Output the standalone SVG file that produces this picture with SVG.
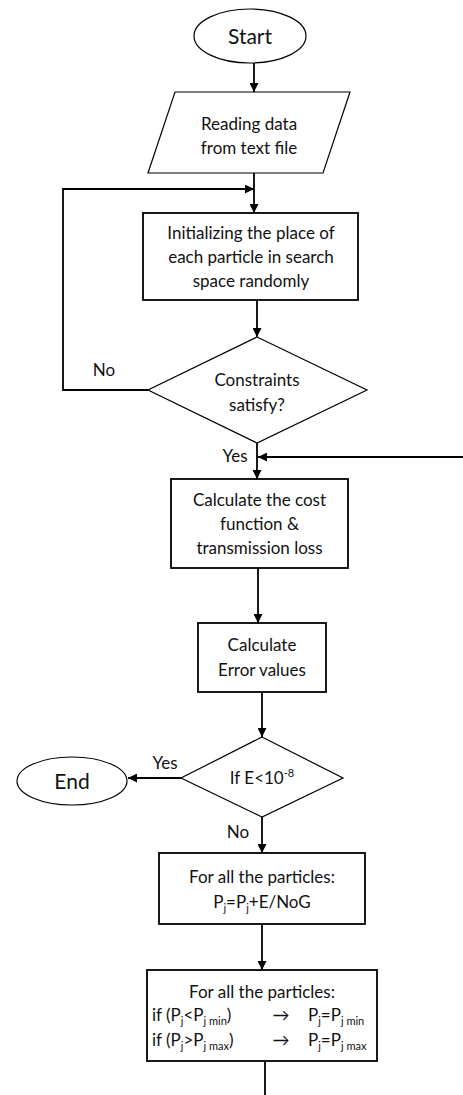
<svg xmlns="http://www.w3.org/2000/svg" width="463" height="1095" viewBox="0 0 463 1095">
<style>
.sh{fill:#fff;stroke:#000;stroke-width:1.2}
.bx{fill:#fff;stroke:#000;stroke-width:1.8}
.t{font-family:Lato,"Liberation Sans",sans-serif;font-size:17px;fill:#111;text-anchor:middle}
.tb{font-family:Lato,"Liberation Sans",sans-serif;font-size:21px;fill:#111;text-anchor:middle}
.tl{font-family:Lato,"Liberation Sans",sans-serif;font-size:17px;fill:#111}
.c{fill:none;stroke:#000;stroke-width:1.8}
.s{font-size:11px}
</style>
<defs>
<marker id="ah" viewBox="0 0 10 10" refX="10" refY="5" markerWidth="9" markerHeight="9" markerUnits="userSpaceOnUse" orient="auto">
<path d="M0,0 L10,5 L0,10 z" fill="#000"/>
</marker>
</defs>
<g id="connectors">
<path class="c" d="M254,63 V92" marker-end="url(#ah)"/>
<path class="c" d="M254,173 V213" marker-end="url(#ah)"/>
<path class="c" d="M148,390 H63 V189 H254" marker-end="url(#ah)"/>
<path class="c" d="M257,300 V337" marker-end="url(#ah)"/>
<path class="c" d="M257,443 V479" marker-end="url(#ah)"/>
<path class="c" d="M463,457 H258" marker-end="url(#ah)"/>
<path class="c" d="M258,568 V623" marker-end="url(#ah)"/>
<path class="c" d="M262,692 V737" marker-end="url(#ah)"/>
<path class="c" d="M181,778 H128" marker-end="url(#ah)"/>
<path class="c" d="M262,817 V853" marker-end="url(#ah)"/>
<path class="c" d="M262,924 V970" marker-end="url(#ah)"/>
<path class="c" d="M265,1061 V1095"/>
<text class="t" x="104" y="376">No</text>
<text class="t" x="235" y="462">Yes</text>
<text class="t" x="165" y="769">Yes</text>
<text class="t" x="238" y="838">No</text>
</g>
<g id="start">
<ellipse class="sh" cx="250" cy="36" rx="56" ry="27"/>
<text class="tb" x="250" y="44">Start</text>
</g>
<g id="read">
<polygon class="sh" points="175,92 350,92 323,173 148,173"/>
<text class="t" x="249" y="130">Reading data</text>
<text class="t" x="249" y="154">from text file</text>
</g>
<g id="init">
<rect class="bx" x="143" y="213" width="215" height="87"/>
<text class="t" x="251" y="239">Initializing the place of</text>
<text class="t" x="251" y="263">each particle in search</text>
<text class="t" x="251" y="287">space randomly</text>
</g>
<g id="constraints">
<polygon class="sh" points="257,337 367,390 257,443 148,390"/>
<text class="t" x="257" y="386">Constraints</text>
<text class="t" x="257" y="411">satisfy?</text>
</g>
<g id="cost">
<rect class="bx" x="171" y="479" width="177" height="89"/>
<text class="t" x="259.5" y="506">Calculate the cost</text>
<text class="t" x="259.5" y="530">function &amp;</text>
<text class="t" x="259.5" y="554">transmission loss</text>
</g>
<g id="error">
<rect class="bx" x="198" y="623" width="128" height="69"/>
<text class="t" x="262" y="651">Calculate</text>
<text class="t" x="262" y="676">Error values</text>
</g>
<g id="check">
<polygon class="sh" points="262,737 343,778 262,817 181,778"/>
<text class="t" x="262" y="784">If E&lt;10<tspan class="s" dy="-7">-8</tspan></text>
</g>
<g id="end">
<ellipse class="sh" cx="72" cy="781" rx="55" ry="24"/>
<text class="tb" x="72" y="789">End</text>
</g>
<g id="update">
<rect class="bx" x="159" y="853" width="206" height="71"/>
<text class="t" x="262" y="883">For all the particles:</text>
<text class="t" x="262" y="908">P<tspan class="s" dy="4">j</tspan><tspan dy="-4">=P</tspan><tspan class="s" dy="4">j</tspan><tspan dy="-4">+E/NoG</tspan></text>
</g>
<g id="limits">
<rect class="bx" x="147" y="970" width="230" height="91"/>
<text class="t" x="262" y="998">For all the particles:</text>
<text class="tl" x="152" y="1021">if (P<tspan class="s" dy="4">j</tspan><tspan dy="-4">&lt;P</tspan><tspan class="s" dy="4">j min</tspan><tspan dy="-4">)</tspan></text>
<text class="t" x="281" y="1021">→</text>
<text class="tl" x="308" y="1021">P<tspan class="s" dy="4">j</tspan><tspan dy="-4">=P</tspan><tspan class="s" dy="4">j min</tspan></text>
<text class="tl" x="152" y="1046">if (P<tspan class="s" dy="4">j</tspan><tspan dy="-4">&gt;P</tspan><tspan class="s" dy="4">j max</tspan><tspan dy="-4">)</tspan></text>
<text class="t" x="281" y="1046">→</text>
<text class="tl" x="308" y="1046">P<tspan class="s" dy="4">j</tspan><tspan dy="-4">=P</tspan><tspan class="s" dy="4">j max</tspan></text>
</g>
</svg>
